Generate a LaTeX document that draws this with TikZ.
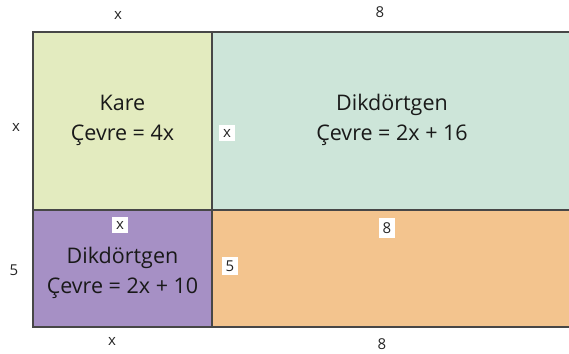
\documentclass[tikz,border=0pt]{standalone}
\usepackage{fontspec}
\setmainfont{Open Sans}
\usetikzlibrary{positioning}
\definecolor{kare_fill}{HTML}{E3EBBF}
\definecolor{dik_fill}{HTML}{CDE5D9}
\definecolor{mor_fill}{HTML}{A690C5}
\definecolor{tur_fill}{HTML}{F3C48E}
\definecolor{edge_col}{HTML}{474747}
\tikzset{
        % Text inside a region
        region_text/.style={align=center, text=black!90, font=\fontsize{21.5}{30}\selectfont},
        % Side lengths outside the figure
        side_len/.style={inner sep=1pt, text=black!85, font=\fontsize{15}{17}\selectfont},
        % Side lengths on white tags
        side_tag/.style={side_len, fill=white, inner sep=4pt}
}

\begin{document}
\begin{tikzpicture}[x=1pt, y=1pt]
    \useasboundingbox (0,0) rectangle (569,353);
    % regions
    \fill[kare_fill] (33,143) rectangle (212,321);
    \fill[dik_fill] (212,143) rectangle (570,321);
    \fill[mor_fill] (33,26) rectangle (212,143);
    \fill[tur_fill] (212,26) rectangle (570,143);
    \draw[draw=edge_col, line width=1.4pt] (570,321) -- (33,321) -- (33,26) -- (570,26);
    \draw[draw=edge_col, line width=1.4pt] (212,321) -- (212,26);
    \draw[draw=edge_col, line width=1.4pt] (33,143) -- (570,143);
    % region texts
    \node[region_text] (kare) at (122.5,233) {Kare\\Çevre = 4x};
    \node[region_text] (dik_top) at (392,233) {Dikdörtgen\\Çevre = 2x + 16};
    \node[region_text] (dik_bottom) at (122.5,80) {Dikdörtgen\\Çevre = 2x + 10};
    % outer side lengths
    \node[side_len] (top_x) at (118,338) {x};
    \node[side_len] (top_8) at (380,341) {8};
    \node[side_len] (left_x) at (16,226) {x};
    \node[side_len] (left_5) at (14,83) {5};
    \node[side_len] (bottom_x) at (112,12) {x};
    \node[side_len] (bottom_8) at (382,9) {8};
    % inner side lengths
    \node[side_tag] (tag_x1) at (227,220) {x};
    \node[side_tag] (tag_x2) at (120,128) {x};
    \node[side_tag] (tag_8) at (387,125) {8};
    \node[side_tag] (tag_5) at (230,87) {5};
\end{tikzpicture}
\end{document}
